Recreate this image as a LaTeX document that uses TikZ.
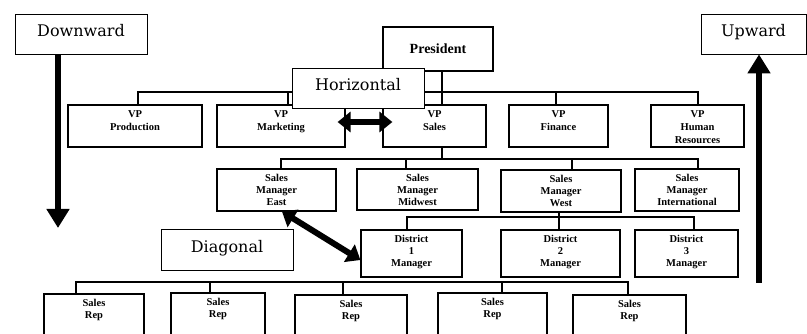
\documentclass[tikz,border=0pt]{standalone}
\usepackage{fontspec}
\setmainfont{Liberation Serif}
\newfontfamily\flowfont{DejaVu Serif}
\usetikzlibrary{arrows.meta}

\tikzset{
  orgbox/.style={draw, line width=1.2pt, fill=white, inner sep=0pt},
  orgtext/.style={anchor=north, align=center, inner sep=0pt, yshift=-6pt,
    font=\bfseries\fontsize{10.5}{11.8}\selectfont},
  vptext/.style={orgtext, font=\bfseries\fontsize{10.5}{13}\selectfont},
  flowbox/.style={draw, line width=0.8pt, fill=white, inner sep=0pt,
    text height=12pt, text depth=6pt, font=\flowfont\fontsize{16}{18}\selectfont},
  wire/.style={line width=1.2pt},
  bigarrow/.style={line width=6.5pt, -{Triangle[length=19pt,width=22pt]}},
  bothway/.style={line width=6pt, {Triangle[length=13pt,width=20pt]}-{Triangle[length=13pt,width=20pt]}},
}

\begin{document}
\begin{tikzpicture}[x=1pt,y=-1pt]
    \useasboundingbox[fill=white] (0,0) rectangle (807,334);
    \clip (0,0) rectangle (807,334);
    % top of the chart
    \node[orgbox, minimum width=110, minimum height=44, font=\bfseries\fontsize{14}{16}\selectfont] (pres) at (438,49) {President};
    % vice presidents
    \node[orgbox, minimum width=134, minimum height=42, label={[vptext]north:{VP\\Production}}] (vpprod) at (135,126) {};
    \node[orgbox, minimum width=128, minimum height=42, label={[vptext]north:{VP\\Marketing}}] (vpmkt) at (281,126) {};
    \node[orgbox, minimum width=103, minimum height=42, label={[vptext]north:{VP\\Sales}}] (vpsal) at (434.5,126) {};
    \node[orgbox, minimum width=99, minimum height=42, label={[vptext]north:{VP\\Finance}}] (vpfin) at (558.5,126) {};
    \node[orgbox, minimum width=93, minimum height=42, label={[vptext]north:{VP\\Human\\Resources}}] (vphr) at (697.5,126) {};
    % sales managers
    \node[orgbox, minimum width=119, minimum height=42, label={[orgtext]north:{Sales\\Manager\\East}}] (smeast) at (276.5,190) {};
    \node[orgbox, minimum width=121, minimum height=41, label={[orgtext]north:{Sales\\Manager\\Midwest}}] (smmid) at (417.5,189.5) {};
    \node[orgbox, minimum width=120, minimum height=42, label={[orgtext]north:{Sales\\Manager\\West}}] (smwest) at (561,191) {};
    \node[orgbox, minimum width=104, minimum height=42, label={[orgtext]north:{Sales\\Manager\\International}}] (smintl) at (687,190) {};
    % district managers
    \node[orgbox, minimum width=101, minimum height=47, label={[orgtext]north:{District\\1\\Manager}}] (dist1) at (411.5,253.5) {};
    \node[orgbox, minimum width=119, minimum height=47, label={[orgtext]north:{District\\2\\Manager}}] (dist2) at (560.5,253.5) {};
    \node[orgbox, minimum width=103, minimum height=47, label={[orgtext]north:{District\\3\\Manager}}] (dist3) at (686.5,253.5) {};
    % sales reps (cut off by the lower edge)
    \node[orgbox, minimum width=100, minimum height=60, label={[orgtext]north:{Sales\\Rep}}] (rep1) at (94,324) {};
    \node[orgbox, minimum width=94, minimum height=60, label={[orgtext]north:{Sales\\Rep}}] (rep2) at (218,323) {};
    \node[orgbox, minimum width=112, minimum height=60, label={[orgtext]north:{Sales\\Rep}}] (rep3) at (351,325) {};
    \node[orgbox, minimum width=109, minimum height=60, label={[orgtext]north:{Sales\\Rep}}] (rep4) at (492.5,323) {};
    \node[orgbox, minimum width=113, minimum height=60, label={[orgtext]north:{Sales\\Rep}}] (rep5) at (629.5,325) {};
    % bus lines
    \coordinate (busA) at (0,92);
    \coordinate (busB) at (0,159);
    \coordinate (busC) at (0,217);
    \coordinate (busD) at (0,282);
    \draw[wire] ([xshift=4pt]pres.south) -- ([xshift=7.5pt]vpsal.north);
    \draw[wire] ([xshift=3pt]vpprod.north) |- ([xshift=0.5pt]vphr.north |- busA) -- ([xshift=0.5pt]vphr.north);
    \draw[wire] ([xshift=7pt]vpmkt.north) -- ([xshift=7pt]vpmkt.north |- busA);
    \draw[wire] ([xshift=-2.5pt]vpfin.north) -- ([xshift=-2.5pt]vpfin.north |- busA);
    \draw[wire] ([xshift=7.5pt]vpsal.south) -- ([xshift=7.5pt]vpsal.south |- busB);
    \draw[wire] ([xshift=4.5pt]smeast.north) |- ([xshift=11pt]smintl.north |- busB) -- ([xshift=11pt]smintl.north);
    \draw[wire] ([xshift=-11.5pt]smmid.north) -- ([xshift=-11.5pt]smmid.north |- busB);
    \draw[wire] ([xshift=11pt]smwest.north) -- ([xshift=11pt]smwest.north |- busB);
    \draw[wire] ([xshift=-2pt]smwest.south) -- ([xshift=-1.5pt]dist2.north);
    \draw[wire] ([xshift=-4.5pt]dist1.north) |- ([xshift=7.5pt]dist3.north |- busC) -- ([xshift=7.5pt]dist3.north);
    \draw[wire] ([xshift=-18pt]rep1.north) |- ([xshift=-1.5pt]rep5.north |- busD) -- ([xshift=-1.5pt]rep5.north);
    \draw[wire] ([xshift=-8pt]rep2.north) -- ([xshift=-8pt]rep2.north |- busD);
    \draw[wire] ([xshift=-8pt]rep3.north) -- ([xshift=-8pt]rep3.north |- busD);
    \draw[wire] ([xshift=9.5pt]rep4.north) -- ([xshift=9.5pt]rep4.north |- busD);
    % directions of communication
    \node[flowbox, minimum width=132, minimum height=40] (down) at (81,34) {Downward};
    \node[flowbox, minimum width=105, minimum height=40] (up) at (753.5,34) {Upward};
    \node[flowbox, minimum width=132, minimum height=40] (horiz) at (358,88) {Horizontal};
    \node[flowbox, minimum width=132, minimum height=41] (diag) at (227,249.5) {Diagonal};
    \coordinate (downtip) at (58,228);
    \coordinate (uptail) at (759,283);
    \draw[bigarrow] (downtip |- down.south) -- (downtip);
    \draw[bigarrow] (uptail) -- (uptail |- up.south);
    \draw[bothway] ([shift={(-8,-4)}]vpmkt.east) -- ([shift={(10,-4)}]vpsal.west);
    \draw[bothway] ([xshift=5.5pt]smeast.south) -- ([yshift=-6.5pt]dist1.west);
\end{tikzpicture}
\end{document}
